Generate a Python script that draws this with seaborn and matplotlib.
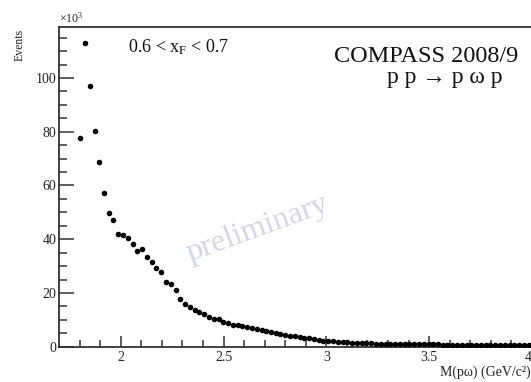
import numpy as np
import pandas as pd
import matplotlib
matplotlib.use("Agg")
import matplotlib.pyplot as plt
import seaborn as sns

# Bin centres of M(p omega) in GeV/c^2
mass = [1.803, 1.826, 1.849, 1.873, 1.896, 1.919, 1.942, 1.965, 1.989, 2.012,
        2.035, 2.058, 2.081, 2.105, 2.128, 2.151, 2.174, 2.197, 2.221, 2.244,
        2.267, 2.290, 2.313, 2.337, 2.360, 2.383, 2.406, 2.429, 2.453, 2.476,
        2.499, 2.522, 2.545, 2.569, 2.592, 2.615, 2.638, 2.661, 2.685, 2.708,
        2.731, 2.754, 2.777, 2.801, 2.824, 2.847, 2.870, 2.893, 2.917, 2.940,
        2.963, 2.986, 3.009, 3.033, 3.056, 3.079, 3.102, 3.125, 3.149, 3.172,
        3.195, 3.218, 3.241, 3.265, 3.288, 3.311, 3.334, 3.357, 3.381, 3.404,
        3.427, 3.450, 3.473, 3.497, 3.520, 3.543, 3.566, 3.589, 3.613, 3.636,
        3.659, 3.682, 3.705, 3.729, 3.752, 3.775, 3.798, 3.821, 3.845, 3.868,
        3.891, 3.914, 3.937, 3.961, 3.984]

# Events in units of 10^3
events = [77.5, 113.0, 97.1, 80.4, 68.6, 57.3, 49.6, 47.0, 41.8, 41.7,
          40.3, 38.1, 35.7, 36.3, 33.4, 31.5, 29.4, 27.8, 24.2, 23.3,
          21.1, 17.6, 15.9, 14.8, 13.6, 13.0, 12.0, 11.2, 10.4, 10.2,
          9.1, 8.7, 8.2, 8.0, 7.6, 7.2, 6.9, 6.5, 6.2, 5.8,
          5.5, 5.1, 4.8, 4.4, 4.1, 3.8, 3.6, 3.3, 3.1, 2.9,
          2.6, 2.3, 2.2, 2.0, 1.9, 1.7, 1.6, 1.5, 1.4, 1.3,
          1.25, 1.2, 1.15, 1.1, 1.1, 1.05, 1.0, 1.0, 0.95, 0.95,
          0.9, 0.9, 0.9, 0.85, 0.85, 0.85, 0.8, 0.8, 0.8, 0.8,
          0.75, 0.75, 0.75, 0.75, 0.7, 0.7, 0.7, 0.7, 0.7, 0.65,
          0.65, 0.65, 0.65, 0.6, 0.6]

x_major = [2.0, 2.5, 3.0, 3.5, 4.0]
x_labels = ["2", "2.5", "3", "3.5", "4"]
y_major = [0, 20, 40, 60, 80, 100]

sns.set_theme(style="ticks")
plt.rcParams["font.family"] = ["Liberation Serif", "DejaVu Serif"]
plt.rcParams["mathtext.fontset"] = "custom"
plt.rcParams["mathtext.rm"] = "Liberation Serif"
plt.rcParams["mathtext.it"] = "Liberation Serif"

df = pd.DataFrame({"mass": mass, "events": events})

fig = plt.figure(figsize=(5.31, 3.82), dpi=100)
W, H = 531, 382
left, right, top, bottom = 59, 532, 27, 346.7
ax = fig.add_axes([left / W, 1 - bottom / H, (right - left) / W, (bottom - top) / H])

sns.scatterplot(data=df, x="mass", y="events", ax=ax, color="black",
                s=16, edgecolor="black", linewidth=0, legend=False, zorder=3)

ax.set_xlim(1.7, 4.0)
ax.set_ylim(0, 118.96)
ax.set_xticks(x_major)
ax.set_xticklabels(x_labels)
ax.set_xticks(np.arange(1.8, 4.0, 0.1), minor=True)
ax.set_yticks(y_major)
ax.set_yticks(np.arange(0, 119, 5), minor=True)
ax.tick_params(axis="both", which="both", direction="in", color="#333333",
               labelsize=10, labelcolor="#222222")
ax.tick_params(axis="y", which="major", length=11, width=1.1, pad=2)
ax.tick_params(axis="y", which="minor", length=6, width=1.1)
ax.tick_params(axis="x", which="major", length=8, width=1.1, pad=3)
ax.tick_params(axis="x", which="minor", length=5, width=1.1)
ax.tick_params(top=False, right=False, which="both")
ax.get_xticklabels()[-1].set_horizontalalignment("right")
for side in ["left", "bottom", "top"]:
    ax.spines[side].set_linewidth(1.3)
    ax.spines[side].set_color("#333333")
ax.spines["right"].set_visible(False)
ax.set_xlabel("")
ax.set_ylabel("")

fig.text(20 / W, 1 - 45 / H, "Events", rotation=90, ha="center", va="center",
         fontsize=8.5, color="#222222")
fig.text(59 / W, 1 - 18 / H, r"$\times10^{3}$", ha="left", va="center",
         fontsize=8.5, color="#222222")
fig.text(531 / W, 1 - 372 / H, "M(pω) (GeV/c²)", ha="right",
         va="center", fontsize=10, color="#222222")

ax.text(128 / W, 1 - 47 / H, r"0.6 < x$_{\mathrm{F}}$ < 0.7", transform=fig.transFigure,
        ha="left", va="center", fontsize=13, color="#111111")
ax.text(426 / W, 1 - 56 / H, "COMPASS 2008/9", transform=fig.transFigure,
        ha="center", va="center", fontsize=17.5, color="#111111")
ax.text(445 / W, 1 - 78 / H, "p p → p ω p", transform=fig.transFigure,
        ha="center", va="center", fontsize=17, color="#111111")
ax.text(258 / W, 1 - 229 / H, "preliminary", transform=fig.transFigure,
        ha="center", va="center", fontsize=23, rotation=20, color="#d2d6e2",
        zorder=1)

fig.savefig("out.png", dpi=100)
